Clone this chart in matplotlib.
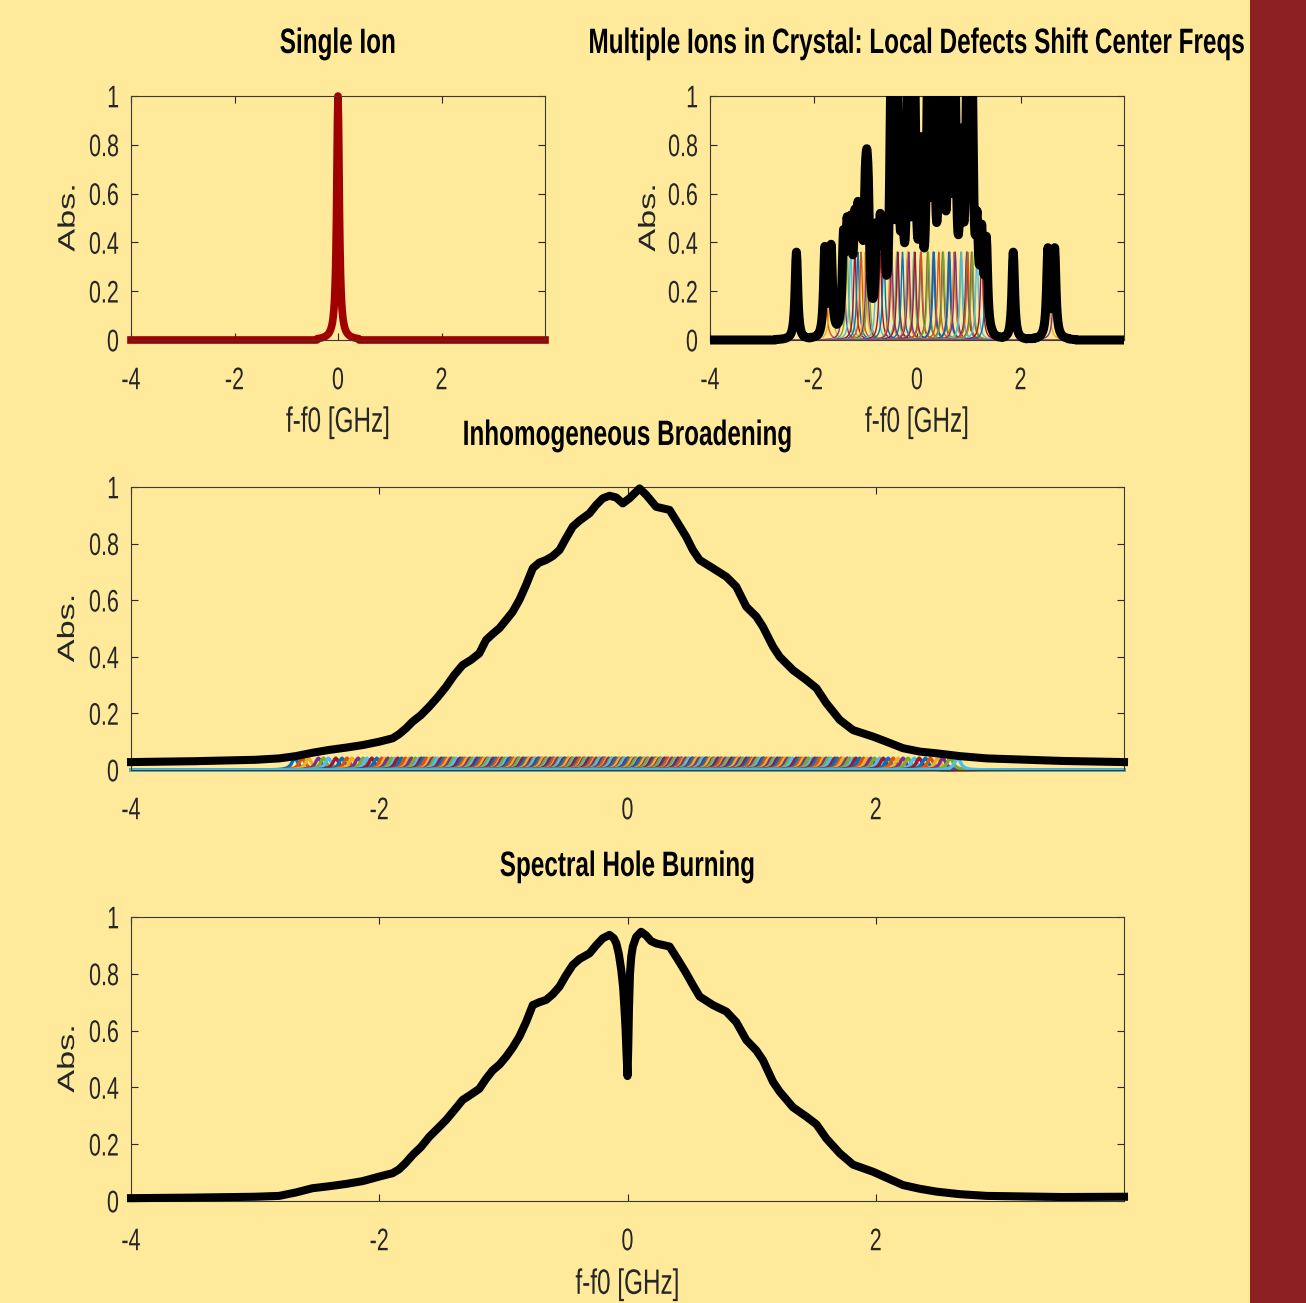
"""
Spectral hole burning figure: single ion, ions in a crystal,
inhomogeneous broadening and a burnt spectral hole.
"""

import numpy as np
import matplotlib
matplotlib.use('Agg')
import matplotlib.pyplot as plt
from matplotlib.patches import Rectangle
from matplotlib.patheffects import AbstractPathEffect
from matplotlib.transforms import Affine2D
from matplotlib.path import Path

plt.rcParams['font.family'] = ['Liberation Sans', 'DejaVu Sans']
plt.rcParams['axes.unicode_minus'] = False

# ---- data ----
# single-ion line shape, value vs |f - fc| in steps of 0.01 GHz (0 .. 0.40)
line_shape_half = [1.0, 0.900, 0.692, 0.500, 0.360, 0.265, 0.200, 0.155, 0.123, 0.100,
                   0.0826, 0.0692, 0.0588, 0.0506, 0.0439, 0.0385, 0.0340, 0.0302, 0.0270, 0.0243,
                   0.0220, 0.0200, 0.0183, 0.0167, 0.0154, 0.0142, 0.0131, 0.0122, 0.0113, 0.0106,
                   0.0099, 0.0093, 0.0087, 0.0082, 0.0077, 0.0073, 0.0069, 0.0065, 0.0062, 0.0059,
                   0.0056]

single_center = 0.0
single_amp = 1.0

# ion centre frequencies in the crystal (GHz), each line 0.36 high
crystal_amp = 0.36
crystal_centers = [-2.33, -1.78, -1.66, -1.42, -1.35, -1.28, -1.20, -1.14, -1.08,
                   -1.00, -0.97, -0.94, -0.78, -0.71, -0.64,
                   -0.51, -0.50, -0.49, -0.39, -0.38, -0.37, -0.28,
                   -0.18, -0.17, -0.16, -0.06, -0.05, -0.04, 0.07, 0.08,
                   0.20, 0.21, 0.22, 0.31, 0.32, 0.33, 0.42,
                   0.49, 0.50, 0.51, 0.61, 0.62, 0.63, 0.72, 0.73, 0.74,
                   0.85, 0.86, 0.96, 0.97, 0.98, 1.05, 1.06, 1.07,
                   1.16, 1.25, 1.34, 1.86, 2.53, 2.66]

# many ions for the inhomogeneous line, each a small line at the bottom
broad_amp = 0.042
broad_centers = [-2.68, -2.57, -2.49, -2.41, -2.30, -2.22, -2.13, -2.06, -1.98, -1.93,
                 -1.87, -1.82, -1.76, -1.71, -1.66, -1.62, -1.57, -1.53, -1.48, -1.44,
                 -1.40, -1.35, -1.31, -1.27, -1.23, -1.19, -1.15, -1.12, -1.08, -1.04,
                 -1.01, -0.97, -0.94, -0.90, -0.87, -0.84, -0.80, -0.77, -0.74, -0.71,
                 -0.68, -0.65, -0.62, -0.59, -0.56, -0.53, -0.50, -0.47, -0.45, -0.42,
                 -0.39, -0.36, -0.34, -0.31, -0.28, -0.26, -0.23, -0.20, -0.18, -0.15,
                 -0.12, -0.10, -0.07, -0.04, -0.02, 0.01, 0.03, 0.06, 0.09, 0.11,
                 0.14, 0.16, 0.19, 0.22, 0.24, 0.27, 0.30, 0.32, 0.35, 0.38,
                 0.41, 0.43, 0.46, 0.49, 0.52, 0.55, 0.58, 0.61, 0.64, 0.67,
                 0.70, 0.73, 0.76, 0.79, 0.83, 0.86, 0.89, 0.93, 0.96, 1.00,
                 1.03, 1.07, 1.10, 1.14, 1.18, 1.21, 1.25, 1.29, 1.33, 1.38,
                 1.42, 1.46, 1.51, 1.55, 1.60, 1.64, 1.69, 1.74, 1.79, 1.84,
                 1.90, 1.96, 2.03, 2.10, 2.18, 2.26, 2.35, 2.44, 2.54, 2.66]
broad_centers_2 = [-2.62, -2.45, -2.35, -2.26, -2.17, -2.10, -2.02, -1.95, -1.90, -1.85,
                   -1.79, -1.74, -1.68, -1.64, -1.59, -1.55, -1.50, -1.46, -1.42, -1.38,
                   -1.33, -1.29, -1.25, -1.21, -1.17, -1.13, -1.10, -1.06, -1.02, -0.99,
                   -0.95, -0.92, -0.88, -0.85, -0.82, -0.79, -0.75, -0.72, -0.69, -0.66,
                   -0.63, -0.60, -0.57, -0.54, -0.51, -0.48, -0.44, -0.41, -0.38, -0.35,
                   -0.32, -0.29, -0.25, -0.22, -0.19, -0.16, -0.13, -0.09, -0.06, -0.03,
                   0.00, 0.04, 0.07, 0.10, 0.13, 0.17, 0.20, 0.23, 0.26, 0.29,
                   0.33, 0.36, 0.40, 0.44, 0.47, 0.50, 0.53, 0.56, 0.60, 0.63,
                   0.66, 0.69, 0.72, 0.75, 0.78, 0.81, 0.84, 0.88, 0.91, 0.95,
                   0.98, 1.02, 1.05, 1.09, 1.12, 1.16, 1.20, 1.23, 1.27, 1.31,
                   1.36, 1.40, 1.44, 1.49, 1.53, 1.58, 1.62, 1.67, 1.72, 1.77,
                   1.82, 1.87, 1.93, 1.99, 2.06, 2.14, 2.22, 2.31, 2.40, 2.50, 2.60]

# total inhomogeneous absorption (black curve)
broad_x = [-4.0, -3.5, -3.0, -2.806, -2.672, -2.538, -2.403, -2.269, -2.134, -2.0,
           -1.892, -1.839, -1.785, -1.731, -1.664, -1.597, -1.530, -1.462, -1.395, -1.328,
           -1.261, -1.194, -1.140, -1.086, -1.032, -0.978, -0.925, -0.871, -0.817, -0.763,
           -0.710, -0.656, -0.602, -0.548, -0.495, -0.441, -0.387, -0.306, -0.253, -0.199,
           -0.145, -0.091, -0.038, 0.016, 0.097, 0.151, 0.231, 0.339, 0.406, 0.473,
           0.527, 0.581, 0.688, 0.796, 0.876, 0.957, 1.038, 1.091, 1.172, 1.226,
           1.333, 1.441, 1.522, 1.602, 1.710, 1.817, 1.978, 2.086, 2.220, 2.355,
           2.489, 2.677, 2.893, 3.5, 4.0]
broad_y = [0.028, 0.031, 0.036, 0.041, 0.049, 0.061, 0.071, 0.079, 0.088, 0.100,
           0.112, 0.127, 0.147, 0.171, 0.194, 0.224, 0.257, 0.294, 0.336, 0.371,
           0.389, 0.412, 0.459, 0.481, 0.501, 0.530, 0.559, 0.601, 0.654, 0.713,
           0.733, 0.742, 0.756, 0.777, 0.819, 0.860, 0.881, 0.907, 0.936, 0.960,
           0.969, 0.963, 0.942, 0.960, 0.995, 0.972, 0.930, 0.919, 0.872, 0.824,
           0.777, 0.742, 0.713, 0.683, 0.648, 0.577, 0.542, 0.506, 0.436, 0.400,
           0.353, 0.318, 0.289, 0.236, 0.177, 0.141, 0.118, 0.100, 0.077, 0.065,
           0.059, 0.049, 0.041, 0.032, 0.028]

# absorption after burning a hole at f0
hole_x = [-4.0, -3.5, -3.0, -2.806, -2.672, -2.538, -2.403, -2.269, -2.134, -2.0,
          -1.892, -1.839, -1.785, -1.731, -1.664, -1.597, -1.530, -1.462, -1.395, -1.328,
          -1.261, -1.194, -1.140, -1.086, -1.032, -0.978, -0.925, -0.871, -0.817, -0.763,
          -0.710, -0.656, -0.602, -0.548, -0.495, -0.441, -0.387, -0.306, -0.253, -0.199,
          -0.145, -0.110, -0.090, -0.070, -0.050, -0.035, -0.024, -0.015, -0.008, 0.0,
          0.006, 0.012, 0.020, 0.030, 0.043, 0.070, 0.110, 0.150, 0.190, 0.231,
          0.339, 0.406, 0.473, 0.527, 0.581, 0.688, 0.796, 0.876, 0.957, 1.038,
          1.091, 1.172, 1.226, 1.333, 1.441, 1.522, 1.602, 1.710, 1.817, 1.978,
          2.086, 2.220, 2.355, 2.489, 2.677, 2.893, 3.5, 4.0]
hole_y = [0.010, 0.012, 0.015, 0.018, 0.030, 0.045, 0.052, 0.060, 0.070, 0.086,
          0.098, 0.112, 0.135, 0.162, 0.190, 0.226, 0.255, 0.285, 0.320, 0.356,
          0.375, 0.395, 0.430, 0.460, 0.480, 0.508, 0.540, 0.579, 0.630, 0.690,
          0.700, 0.708, 0.728, 0.755, 0.795, 0.831, 0.852, 0.872, 0.900, 0.925,
          0.937, 0.925, 0.907, 0.870, 0.813, 0.750, 0.673, 0.600, 0.520, 0.440,
          0.540, 0.680, 0.800, 0.860, 0.896, 0.930, 0.948, 0.935, 0.915, 0.907,
          0.896, 0.850, 0.802, 0.760, 0.720, 0.690, 0.667, 0.630, 0.567, 0.530,
          0.496, 0.420, 0.385, 0.330, 0.297, 0.270, 0.220, 0.168, 0.128, 0.103,
          0.082, 0.056, 0.043, 0.033, 0.024, 0.018, 0.014, 0.015]

x_ticks = [-4, -2, 0, 2]
x_ticklabels = ['-4', '-2', '0', '2']
y_ticks = [0, 0.2, 0.4, 0.6, 0.8, 1]
y_ticklabels = ['0', '0.2', '0.4', '0.6', '0.8', '1']

BG = '#FFE99A'
STRIP = '#8C2022'
MATLAB = ['#0072BD', '#D95319', '#EDB120', '#7E2F8E', '#77AC30', '#4DBEEE', '#A2142F']
SY = 1.45   # picture is stretched vertically


class Stretch(AbstractPathEffect):
    """scale glyphs about their own centre (text stays text)"""
    def __init__(self, sx=1.0, sy=SY):
        super().__init__()
        self.sx, self.sy = sx, sy

    def draw_path(self, renderer, gc, tpath, affine, rgbFace=None):
        v = tpath.vertices
        if tpath.codes is not None:
            v = v[tpath.codes != Path.CLOSEPOLY]
        if len(v):
            cx = (v[:, 0].min() + v[:, 0].max()) / 2
            cy = (v[:, 1].min() + v[:, 1].max()) / 2
        else:
            cx = cy = 0
        t = Affine2D().translate(-cx, -cy).scale(self.sx, self.sy).translate(cx, cy) + affine
        renderer.draw_path(gc, tpath, t, rgbFace)


# frequency grid, 0.01 GHz
freq = np.round(np.arange(-400, 401) * 0.01, 2)
shape = np.array(line_shape_half[:0:-1] + line_shape_half)
half_n = len(line_shape_half) - 1


def ion_line(center, amp):
    y = np.zeros_like(freq)
    i0 = int(round((center + 4) / 0.01))
    for k, s in enumerate(shape):
        j = i0 - half_n + k
        if 0 <= j < len(freq):
            y[j] = amp * s
    return y


W, H = 1306, 1303
fig = plt.figure(figsize=(W / 100, H / 100), dpi=100, facecolor=BG)
fig.add_artist(Rectangle((1250 / W, 0), 56 / W, 1, transform=fig.transFigure,
                         facecolor=STRIP, edgecolor='none'))


def box(l, t, r, b):
    return fig.add_axes([l / W, 1 - b / H, (r - l) / W, (b - t) / H])


def style(ax, title, ty, xlabel=None, xly=None, ylx=None):
    ax.set_facecolor(BG)
    ax.set_xlim(-4, 4)
    ax.set_ylim(0, 1)
    ax.set_xticks(x_ticks)
    ax.set_xticklabels(x_ticklabels)
    ax.set_yticks(y_ticks)
    ax.set_yticklabels(y_ticklabels)
    ax.tick_params(direction='in', top=True, right=True, length=5, width=0.8,
                   color='#262626', labelcolor='#262626', labelsize=15.5)
    ax.tick_params(axis='x', pad=21.5)
    ax.tick_params(axis='y', pad=8.6)
    for sp in ax.spines.values():
        sp.set_color('#3a3a3a')
        sp.set_linewidth(0.8)
    for lbl in ax.get_xticklabels() + ax.get_yticklabels():
        lbl.set_path_effects([Stretch()])
    t = ax.set_title(title, fontsize=17.5, fontweight='bold', y=ty, va='center')
    t.set_path_effects([Stretch()])
    if xlabel:
        ax.set_xlabel(xlabel, fontsize=17.5, color='#262626')
        ax.xaxis.set_label_coords(0.5, xly)
        ax.xaxis.label.set_va('center')
        ax.xaxis.label.set_path_effects([Stretch()])
    ax.set_ylabel('Abs.', fontsize=17, color='#262626')
    ax.yaxis.set_label_coords(ylx, 0.5)
    ax.yaxis.label.set_va('center')
    ax.yaxis.label.set_path_effects([Stretch(sx=SY, sy=1.0)])


ax1 = box(131, 96, 545, 340)
ax2 = box(710, 96, 1124, 340)
ax3 = box(131, 487, 1124, 770)
ax4 = box(131, 917, 1124, 1201)

# single ion
ax1.plot(freq, ion_line(single_center, single_amp), color='#A00000', lw=5.5,
         clip_on=False)

# ions in a crystal
total = np.zeros_like(freq)
for i, c in enumerate(crystal_centers):
    y = ion_line(c, crystal_amp)
    total += y
    ax2.plot(freq, y, color=MATLAB[i % len(MATLAB)], lw=1.0, zorder=2)
blk, = ax2.plot(freq, total, color='black', lw=6.5, zorder=3)
blk.set_clip_path(Rectangle((0, -0.03), 1, 1.03, transform=ax2.transAxes))

# inhomogeneous broadening
for i, c in enumerate(sorted(broad_centers + broad_centers_2)):
    ax3.plot(freq, ion_line(c, broad_amp), color=MATLAB[i % len(MATLAB)], lw=2.4,
             zorder=2, clip_on=False)
ax3.plot(broad_x, broad_y, color='black', lw=5.8, zorder=3, clip_on=False,
         solid_joinstyle='round')

# spectral hole burning
ax4.plot(hole_x, hole_y, color='black', lw=5.8, zorder=3, clip_on=False,
         solid_joinstyle='round')

style(ax1, 'Single Ion', 1 + 44 / 244, 'f-f0 [GHz]', -(423 - 340) / 244, -(131 - 68.5) / 414)
style(ax2, 'Multiple Ions in Crystal: Local Defects Shift Center Freqs', 1 + 44 / 244,
      'f-f0 [GHz]', -(423 - 340) / 244, -(710 - 649) / 414)
style(ax3, 'Inhomogeneous Broadening', 1 + 43 / 283, None, None, -(131 - 68) / 993)
style(ax4, 'Spectral Hole Burning', 1 + 42 / 284, 'f-f0 [GHz]', -(1285 - 1201) / 284,
      -(131 - 68) / 993)

fig.savefig('out.png', dpi=100, facecolor=BG)
